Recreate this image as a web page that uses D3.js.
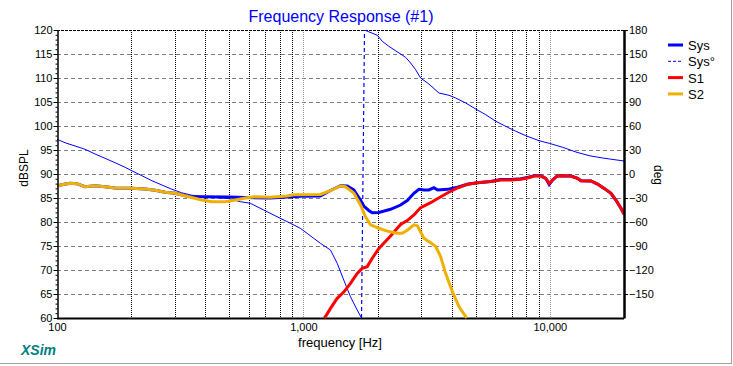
<!DOCTYPE html>
<html><head><meta charset="utf-8">
<script src="https://cdn.jsdelivr.net/npm/d3@7"></script>
<style>
body{margin:0;background:#fff;}
svg{display:block;font-family:"Liberation Sans",Arial,sans-serif;}
</style></head>
<body><svg id="c" width="733" height="366"></svg>
<script>
// ---- data (frequency Hz, value) ----
const sysMag = [[100,87.5],[104.5,87.77],[112.9,88.06],[120.3,87.98],[130,87.35],[142.7,87.56],[156.7,87.35],[172,87.08],[201,87.02],[228,86.88],[250,86.6],[274.8,86.2],[301.7,85.98],[342,85.3],[387,85.27],[496,85.2],[581,85.1],[734,85.0],[858,85.2],[972,85.35],[1172,85.42],[1288,86.56],[1414,87.56],[1505,87.5],[1601,86.67],[1653,85.6],[1705,84.58],[1758,83.33],[1842,82.4],[1903,81.94],[2024,82.0],[2258,82.65],[2479,83.54],[2639,84.48],[2808,85.98],[2942,86.8],[3083,86.67],[3231,86.67],[3385,87.15],[3505,86.67],[3838,86.8],[4216,87.23],[4630,87.85],[5083,88.19],[5758,88.44],[6322,88.85],[6945,88.85],[7624,89.0],[8116,89.27],[8637,89.62],[9192,89.62],[9632,89.1],[9936,87.8],[10256,88.75],[10748,89.65],[12175,89.58],[12961,89.1],[13366,88.6],[14684,88.54],[15625,87.9],[16624,87.0],[17701,85.98],[18547,84.58],[19438,82.85],[20000,81.67]];
const sysPhase = [[100,43.4],[107.8,39.1],[118.4,35],[130,30.9],[142.7,25],[156.7,19.6],[172,14.1],[189,8.4],[201,4.1],[221,-2.1],[242.7,-8.4],[266.5,-13.75],[292.6,-19.1],[321,-23.5],[353,-26.6],[405,-28.8],[496,-30.6],[554.5,-34.6],[609,-36.6],[690,-45],[806,-55.4],[885.6,-61.6],[972,-67.9],[1101,-80.4],[1172,-86.6],[1288,-95],[1371,-111.6],[1458,-132.5],[1552,-153.4],[1653,-170],[1721,-180],[1770,180],[1994,173.4],[2089,165.9],[2222,159.6],[2366,154.1],[2598,145.9],[2723,138.75],[2853,130.4],[2990,120],[3231,112.5],[3548,101.25],[3897,98.4],[4149,95],[4556,88.75],[5003,81.25],[5495,74.1],[6034,65.9],[6622,59.6],[7275,53.4],[7990,47.9],[9050,41.6],[9936,38.4],[11262,33.4],[12757,27.5],[14447,22.9],[16376,20],[20000,16.25]];
const s1Mag = [[1215,60],[1229,60.3],[1288,62.0],[1371,64.1],[1458,65.4],[1552,67.23],[1653,69.3],[1732,70.35],[1815,70.7],[1903,72.44],[2024,74.5],[2258,77.1],[2479,79.48],[2639,80.3],[2808,81.46],[2990,83.0],[3283,84.02],[3495,84.85],[3838,86.04],[4216,87.08],[4630,87.85],[5083,88.19],[5758,88.44],[6322,88.75],[6945,88.75],[7624,88.9],[8116,89.17],[8637,89.58],[9192,89.58],[9632,89.1],[9936,88.06],[10256,88.75],[10748,89.65],[12175,89.58],[12961,89.1],[13366,88.6],[14684,88.54],[15625,87.9],[16624,87.0],[17701,85.98],[18547,84.58],[19438,82.85],[20000,81.67]];
const s2Mag = [[100,87.5],[104.5,87.77],[112.9,88.06],[120.3,87.98],[130,87.35],[142.7,87.56],[156.7,87.35],[172,87.08],[201,87.02],[228,86.88],[250,86.6],[274.8,86.2],[301.7,85.98],[342,85.27],[387,84.58],[425.5,84.23],[482,84.23],[529,84.58],[581,85.0],[638,85.27],[734.5,85.15],[858,85.42],[913,85.69],[1172,85.73],[1288,86.52],[1414,87.5],[1481,87.35],[1601,86.04],[1705,83.54],[1786,81.1],[1873,79.4],[2024,78.7],[2189,78.1],[2403,77.65],[2519,77.65],[2639,78.3],[2808,79.4],[2899,79.2],[3083,76.6],[3283,75.7],[3441,74.9],[3606,72.77],[3777,69.3],[4022,65.5],[4279,62.35],[4599,60]];
const seriesNames = ["Sys","Sys°","S1","S2"];
const seriesColors = ["#0000ff","#0000ff","#ff0000","#f0b000"];
const dbTicks = d3.range(60,121,5);
const degTicks = d3.range(-150,181,30);
const freqLabelTicks = [100,1000,10000];
const freqGrid = [200,300,400,500,600,700,800,900,1000,2000,3000,4000,5000,6000,7000,8000,9000,10000];

// ---- chart ----
const svg = d3.select("#c");
const L=57,R=624,T=30,B=318;
const x = d3.scaleLog().domain([100,20000]).range([L,R]);
const y = d3.scaleLinear().domain([60,120]).range([B,T]);
const yP = d3.scaleLinear().domain([-180,180]).range([B,T]);

// frame
svg.append("line").attr("x1",731.5).attr("x2",731.5).attr("y1",0).attr("y2",364).attr("stroke","#a0a0a0");
svg.append("line").attr("x1",0).attr("x2",732).attr("y1",363.5).attr("y2",363.5).attr("stroke","#a0a0a0");

// title
svg.append("text").attr("x",341).attr("y",22).attr("text-anchor","middle")
  .attr("font-size",16).attr("fill","#0000ff").text("Frequency Response (#1)");

// grid
const g = svg.append("g");
g.selectAll("line.h").data(dbTicks.filter(d=>d>60&&d<120)).enter().append("line")
  .attr("x1",L).attr("x2",R).attr("y1",d=>y(d)+0.5).attr("y2",d=>y(d)+0.5)
  .attr("stroke","#808080").attr("stroke-dasharray","4,3");
g.selectAll("line.v").data(freqGrid).enter().append("line")
  .attr("x1",d=>Math.round(x(d))+0.5).attr("x2",d=>Math.round(x(d))+0.5).attr("y1",T).attr("y2",B)
  .attr("stroke",d=>(d===1000||d===10000)?"#909090":"#000").attr("stroke-dasharray","1,1");
// top border dashed
g.append("line").attr("x1",L).attr("x2",R).attr("y1",T+0.5).attr("y2",T+0.5).attr("stroke","#000").attr("stroke-dasharray","3,1");
// bottom border
g.append("line").attr("x1",L).attr("x2",R).attr("y1",B+0.5).attr("y2",B+0.5).attr("stroke","#000").attr("stroke-width",2);

// clip
svg.append("clipPath").attr("id","pc").append("rect").attr("x",L).attr("y",T).attr("width",R-L).attr("height",B-T+1);
const plot = svg.append("g").attr("clip-path","url(#pc)");
const lineM = d3.line().x(d=>x(d[0])).y(d=>y(d[1]));
const lineP = d3.line().x(d=>x(d[0])).y(d=>yP(d[1]));

plot.append("path").datum(sysMag).attr("d",lineM).attr("fill","none").attr("stroke",seriesColors[0]).attr("stroke-width",3);
// phase segments split at wraps
const segs=[[sysPhase[0]]];
for(let i=1;i<sysPhase.length;i++){
  if(Math.abs(sysPhase[i][1]-sysPhase[i-1][1])>180){
    plot.append("line").attr("x1",x(sysPhase[i-1][0])).attr("y1",yP(sysPhase[i-1][1]))
      .attr("x2",x(sysPhase[i][0])).attr("y2",yP(sysPhase[i][1]))
      .attr("stroke",seriesColors[1]).attr("stroke-width",1.2).attr("stroke-dasharray","4,3");
    segs.push([]);
  }
  segs[segs.length-1].push(sysPhase[i]);
}
segs.forEach(s=>plot.append("path").datum(s).attr("d",lineP).attr("fill","none").attr("stroke",seriesColors[1]).attr("stroke-width",1));
plot.append("path").datum(s1Mag).attr("d",lineM).attr("fill","none").attr("stroke",seriesColors[2]).attr("stroke-width",3);
plot.append("path").datum(s2Mag).attr("d",lineM).attr("fill","none").attr("stroke",seriesColors[3]).attr("stroke-width",3);

// axes
const ax = svg.append("g").attr("font-size",11);
const aL = svg.append("g").attr("transform",`translate(${L+0.5},0)`)
  .call(d3.axisLeft(y).tickValues(d3.range(60,121,1)).tickSize(2).tickSizeOuter(0).tickFormat(""));
aL.select(".domain").remove();
const aL2 = svg.append("g").attr("transform",`translate(${L+0.5},0)`)
  .call(d3.axisLeft(y).tickValues(dbTicks).tickSize(4).tickPadding(1).tickSizeOuter(0));
aL2.select(".domain").attr("stroke-width",1.5);
aL2.selectAll("text").attr("font-size",11).attr("font-family","Liberation Sans, Arial");
const aR = svg.append("g").attr("transform",`translate(${R},0)`)
  .call(d3.axisRight(yP).tickValues(degTicks).tickSize(4).tickPadding(1).tickSizeOuter(0));
aR.select(".domain").attr("stroke-width",2.5);
aR.selectAll("text").attr("font-size",11).attr("font-family","Liberation Sans, Arial");
const aB = svg.append("g").attr("transform",`translate(0,${B})`)
  .call(d3.axisBottom(x).tickValues(freqLabelTicks).tickFormat(d3.format(",")).tickSize(0).tickPadding(5).tickSizeOuter(0));
aB.select(".domain").remove();
aB.selectAll("text").attr("font-size",11).attr("font-family","Liberation Sans, Arial");

// axis titles
svg.append("text").attr("transform","translate(28,168) rotate(-90)").attr("text-anchor","middle")
  .attr("font-size",12).text("dBSPL");
svg.append("text").attr("transform","translate(654,175) rotate(90)").attr("text-anchor","middle")
  .attr("font-size",12).text("deg");
svg.append("text").attr("x",340).attr("y",347).attr("text-anchor","middle").attr("font-size",13).text("frequency [Hz]");
svg.append("text").attr("x",21).attr("y",355).attr("font-size",14).attr("font-weight","bold").attr("font-style","italic")
  .attr("fill","#008080").text("XSim");

// legend
const lg = svg.append("g");
seriesNames.forEach((n,i)=>{
  const yy = 45+i*16.3;
  lg.append("line").attr("x1",668).attr("x2",683).attr("y1",yy).attr("y2",yy)
    .attr("stroke",seriesColors[i]).attr("stroke-width",i===1?1:3).attr("stroke-dasharray",i===1?"3,2":null);
  lg.append("text").attr("x",688).attr("y",yy+5).attr("font-size",13).text(n);
});
</script></body></html>
